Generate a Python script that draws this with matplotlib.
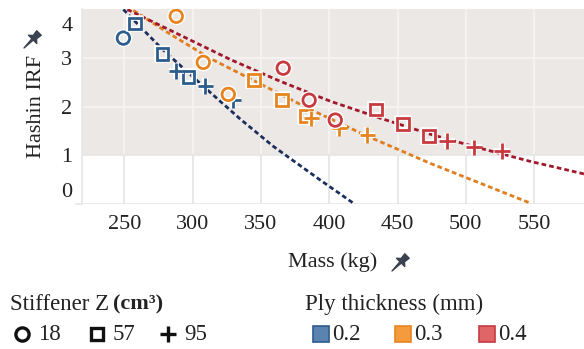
import numpy as np
import matplotlib
matplotlib.use("Agg")
import matplotlib.pyplot as plt
from matplotlib.path import Path
from matplotlib.transforms import Affine2D
import matplotlib.patheffects as pe

plt.rcParams['font.family'] = ['Liberation Serif', 'DejaVu Serif']

# design points, one list per ply thickness
thickness_labels = ['0.2', '0.3', '0.4']
stiffener_labels = ['18', '57', '95']

mass_02 = [249.3, 258.0, 278.0, 297.0, 288.0, 309.3, 329.7]
irf_02 = [3.42, 3.72, 3.09, 2.61, 2.74, 2.43, 2.14]
z_02 = [18, 57, 57, 57, 95, 95, 95]

mass_03 = [288.0, 307.8, 326.1, 345.1, 365.6, 383.1, 386.8, 407.3, 427.8]
irf_03 = [3.87, 2.92, 2.26, 2.55, 2.14, 1.81, 1.77, 1.56, 1.42]
z_03 = [18, 18, 18, 57, 57, 57, 95, 95, 95]

mass_04 = [366.3, 385.3, 404.4, 434.3, 454.1, 473.1, 486.3, 506.0, 526.5]
irf_04 = [2.80, 2.14, 1.73, 1.95, 1.65, 1.40, 1.30, 1.17, 1.09]
z_04 = [18, 18, 18, 57, 57, 57, 95, 95, 95]

# trend lines per thickness
trend_mass_02 = [249.3, 277.8, 309.3, 334.9, 359.0, 392.6, 417.5]
trend_irf_02 = [4.01, 3.19, 2.39, 1.75, 1.19, 0.51, 0.02]
trend_mass_03 = [256.6, 283.7, 312.9, 345.8, 383.9, 427.8, 473.8, 547.0]
trend_irf_03 = [3.99, 3.50, 3.00, 2.53, 1.98, 1.40, 0.84, 0.02]
trend_mass_04 = [252.2, 291.0, 327.5, 364.1, 400.7, 437.3, 473.8, 510.4, 547.0, 586.5]
trend_irf_04 = [4.01, 3.48, 2.98, 2.53, 2.12, 1.77, 1.44, 1.15, 0.88, 0.62]

xticks = [250, 300, 350, 400, 450, 500, 550]
ytick_pos = [0.29, 1, 2, 3, 3.72]
ytick_labels = ['0', '1', '2', '3', '4']
ygrid = [0, 1, 2, 3]
safe_limit = 1.0

marker_col = ['#2d5d8c', '#e6851f', '#c63a40']
line_col = ['#1c2f5c', '#e07d1c', '#a1182b']
legend_fill = ['#5a83b0', '#f49c3d', '#df6567']
shape = {18: 'o', 57: 's', 95: '+'}
txt = '#222222'


def pin_marker(angle):
  # small push pin drawn as a path
  verts = [(-0.3, 1.0), (0.3, 1.0), (0.22, 0.45), (0.55, 0.15), (0.09, 0.15),
           (0.0, -1.0), (-0.09, 0.15), (-0.55, 0.15), (-0.22, 0.45), (-0.3, 1.0)]
  codes = [Path.MOVETO] + [Path.LINETO] * 8 + [Path.CLOSEPOLY]
  p = Path(verts, codes)
  return p.transformed(Affine2D().rotate_deg(angle))


fig = plt.figure(figsize=(5.84, 3.49), dpi=100)
ax = fig.add_axes([82/584., 1 - 204/349., 502/584., 195/349.])

ax.set_xlim(219, 586.5)
ax.set_ylim(0, 4.02)
ax.axhspan(safe_limit, 4.02, color='#ece8e6', lw=0, zorder=0)

for g in xticks:
  ax.axvline(g, color='#f6f4f3', lw=1.2, zorder=1)
  ax.plot([g, g], [0, safe_limit], color='#e6e6e6', lw=1.2, zorder=1)
for g in ygrid:
  ax.axhline(g, color='#e6e6e6' if g <= safe_limit else '#f6f4f3', lw=1.2, zorder=1)

tm = [trend_mass_02, trend_mass_03, trend_mass_04]
ti = [trend_irf_02, trend_irf_03, trend_irf_04]
for k in range(3):
  ax.plot(tm[k], ti[k], color=line_col[k], lw=2.0, dashes=(1.7, 1.1), zorder=2,
          solid_capstyle='butt')

halo = [pe.withStroke(linewidth=4, foreground='white')]
series = [(mass_02, irf_02, z_02), (mass_03, irf_03, z_03), (mass_04, irf_04, z_04)]
for k, (mm, ii, zz) in enumerate(series):
  for z in [18, 57, 95]:
    xs = [m for m, q in zip(mm, zz) if q == z]
    ys = [v for v, q in zip(ii, zz) if q == z]
    if not xs:
      continue
    if z == 95:
      ax.plot(xs, ys, ls='none', marker='+', ms=11, mew=2.0, color=marker_col[k],
              zorder=3, path_effects=halo)
    else:
      ax.plot(xs, ys, ls='none', marker=shape[z], ms=9 if z == 18 else 8.5, mew=2.0,
              mfc='none', mec=marker_col[k], zorder=3, path_effects=halo)

ax.set_xticks(xticks)
ax.set_xticklabels([str(t) for t in xticks], fontsize=16, color=txt)
ax.set_yticks(ytick_pos)
ax.set_yticklabels(ytick_labels, fontsize=16, color=txt)
ax.set_yticks(ygrid, minor=True)
ax.tick_params(axis='both', which='major', length=0, pad=7)
ax.tick_params(axis='x', which='major', pad=8)
ax.tick_params(axis='y', which='minor', length=5, color='#e6e6e6', width=1.2)
for s in ['top', 'right', 'bottom']:
  ax.spines[s].set_visible(False)
ax.spines['left'].set_color('#e6e6e6')
ax.spines['left'].set_linewidth(1.2)

ax.set_ylabel('Hashin IRF', fontsize=16, color=txt)
ax.yaxis.set_label_coords(-0.072, 0.5)
ax.set_xlabel('Mass (kg)', fontsize=16, color=txt)
ax.xaxis.set_label_coords(0.5, -0.25)

# overlay in pixel coordinates for the pins and the legends
ov = fig.add_axes([0, 0, 1, 1])
ov.set_xlim(0, 584)
ov.set_ylim(349, 0)
ov.axis('off')
ov.plot([399], [263], marker=pin_marker(-45), ms=14, color='#3b4350', ls='none')
ov.plot([31], [40], marker=pin_marker(-45), ms=14, color='#3b4350', ls='none')

ov.text(10, 304, 'Stiffener Z', fontsize=16.5, va='center', ha='left', color=txt)
ov.text(113, 304, '(cm\u00b3)', fontsize=16, va='center', ha='left',
        fontweight='bold', color=txt)
sx = [22, 97, 168]
for k, lab in enumerate(stiffener_labels):
  z = int(lab)
  if z == 95:
    ov.plot([sx[k]], [334], marker='+', ms=12, mew=2.4, color='#111111', ls='none')
  else:
    ov.plot([sx[k]], [334], marker=shape[z], ms=9.5 if z == 18 else 9, mew=2.4,
            mfc='none', mec='#111111', ls='none')
  ov.text(sx[k] + 16, 334, lab, fontsize=16.5, va='center', ha='left', color=txt)

ov.text(305, 304, 'Ply thickness (mm)', fontsize=16.5, va='center', ha='left',
        color=txt)
px = [321, 403, 487]
for k, lab in enumerate(thickness_labels):
  ov.plot([px[k]], [334], marker='s', ms=11, mew=1.2, mfc=legend_fill[k],
          mec=marker_col[k], ls='none')
  ov.text(px[k] + 11, 334, lab, fontsize=16.5, va='center', ha='left', color=txt)

fig.savefig('out.png', dpi=100)
